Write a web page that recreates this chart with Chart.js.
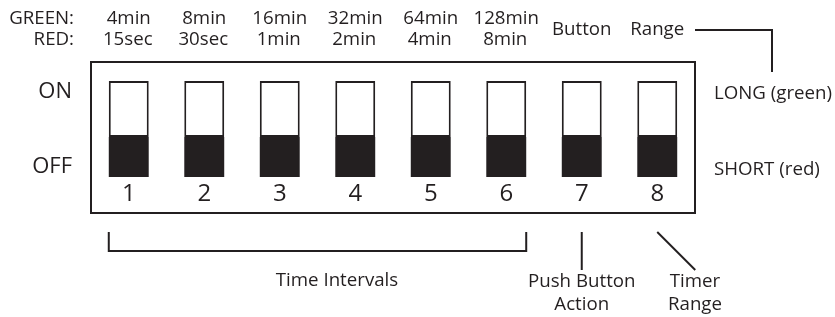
<!DOCTYPE html>
<html>
<head>
<meta charset="utf-8">
<script src="https://cdn.jsdelivr.net/npm/chart.js@4"></script>
<style>
html,body{margin:0;padding:0;background:#fff;}
canvas{display:block;}
</style>
</head>
<body>
<canvas id="c" width="835" height="317"></canvas>
<script>
// ---- data ----
const switchNumbers = ['1','2','3','4','5','6','7','8'];
const greenTimes = ['4min','8min','16min','32min','64min','128min'];
const redTimes = ['15sec','30sec','1min','2min','4min','8min'];
const functionLabels = ['Button','Range'];      // switches 7 and 8
const offSegment = [4,4,4,4,4,4,4,4];            // black (OFF) part of each switch
const onSegment = [5.6,5.6,5.6,5.6,5.6,5.6,5.6,5.6]; // white (ON) part of each switch

const INK = '#231f20';
const FONT = "'Open Sans', 'Liberation Sans', sans-serif";
const LBL = 18.7;

function txt(ctx, s, x, y, size, align){
  ctx.font = size + 'px ' + FONT;
  ctx.textAlign = align || 'center';
  ctx.textBaseline = 'middle';
  ctx.fillStyle = INK;
  ctx.fillText(s, x, y);
}
function line(ctx, pts){
  ctx.beginPath();
  ctx.moveTo(pts[0][0], pts[0][1]);
  for (let i=1;i<pts.length;i++) ctx.lineTo(pts[i][0], pts[i][1]);
  ctx.stroke();
}

const diagram = {
  id: 'diagram',
  afterDraw(chart){
    const ctx = chart.ctx;
    const a = chart.chartArea;
    const xs = chart.scales.x;
    const ys = chart.scales.y;
    const cx = i => xs.getPixelForValue(i);
    const half = (xs.getPixelForValue(1) - xs.getPixelForValue(0)) * 0.529 / 2;
    ctx.save();
    ctx.strokeStyle = INK;
    ctx.lineWidth = 2;
    // outer housing
    ctx.strokeRect(a.left, a.top, a.right - a.left, a.bottom - a.top);

    // header labels
    txt(ctx, 'GREEN:', 74, 19, LBL, 'right');
    txt(ctx, 'RED:', 74, 40, LBL, 'right');
    greenTimes.forEach((t,i)=>txt(ctx, t, cx(i), 19, LBL));
    redTimes.forEach((t,i)=>txt(ctx, t, cx(i)-1, 40, LBL));
    functionLabels.forEach((t,i)=>txt(ctx, t, cx(6+i), 30, LBL));
    // connector from Range
    line(ctx, [[a.right, 30],[772, 30],[772, 72]]);

    // ON / OFF
    txt(ctx, 'ON', 72, ys.getPixelForValue(8.5), 22, 'right');
    txt(ctx, 'OFF', 72, ys.getPixelForValue(1.0), 22, 'right');
    txt(ctx, 'LONG (green)', 714, ys.getPixelForValue(8.3), LBL, 'left');
    txt(ctx, 'SHORT (red)', 714, ys.getPixelForValue(0.7), LBL, 'left');

    // switch numbers
    switchNumbers.forEach((n,i)=>txt(ctx, n, cx(i), ys.getPixelForValue(-1.7), 24));

    // bracket for time intervals
    const bl = cx(0) - half, br = cx(5) + half;
    line(ctx, [[bl, 232],[bl, 251],[br, 251],[br, 232]]);
    txt(ctx, 'Time Intervals', 337, 281, LBL);

    // push button pointer
    line(ctx, [[cx(6), 232],[cx(6), 270]]);
    txt(ctx, 'Push Button', cx(6), 282, LBL);
    txt(ctx, 'Action', cx(6), 305, LBL);

    // timer range pointer
    line(ctx, [[cx(7), 232],[cx(7)+38, 270]]);
    txt(ctx, 'Timer', 695, 282, LBL);
    txt(ctx, 'Range', 695, 305, LBL);
    ctx.restore();
  }
};

new Chart(document.getElementById('c'), {
  type: 'bar',
  data: {
    labels: switchNumbers,
    datasets: [
      { label: 'OFF', data: offSegment, backgroundColor: INK, borderColor: INK, borderWidth: 0, borderSkipped: false },
      { label: 'ON', data: onSegment, backgroundColor: '#ffffff', borderColor: INK, borderWidth: 2, borderSkipped: false }
    ]
  },
  options: {
    responsive: false,
    animation: false,
    devicePixelRatio: 1,
    layout: { padding: { left: 91, right: 140, top: 62, bottom: 104 } },
    plugins: { legend: { display: false }, tooltip: { enabled: false } },
    datasets: { bar: { barPercentage: 0.529, categoryPercentage: 1 } },
    scales: {
      x: { display: false, stacked: true },
      y: { display: false, stacked: true, min: -3.6, max: 11.5 }
    }
  },
  plugins: [diagram]
});
</script>
</body>
</html>
